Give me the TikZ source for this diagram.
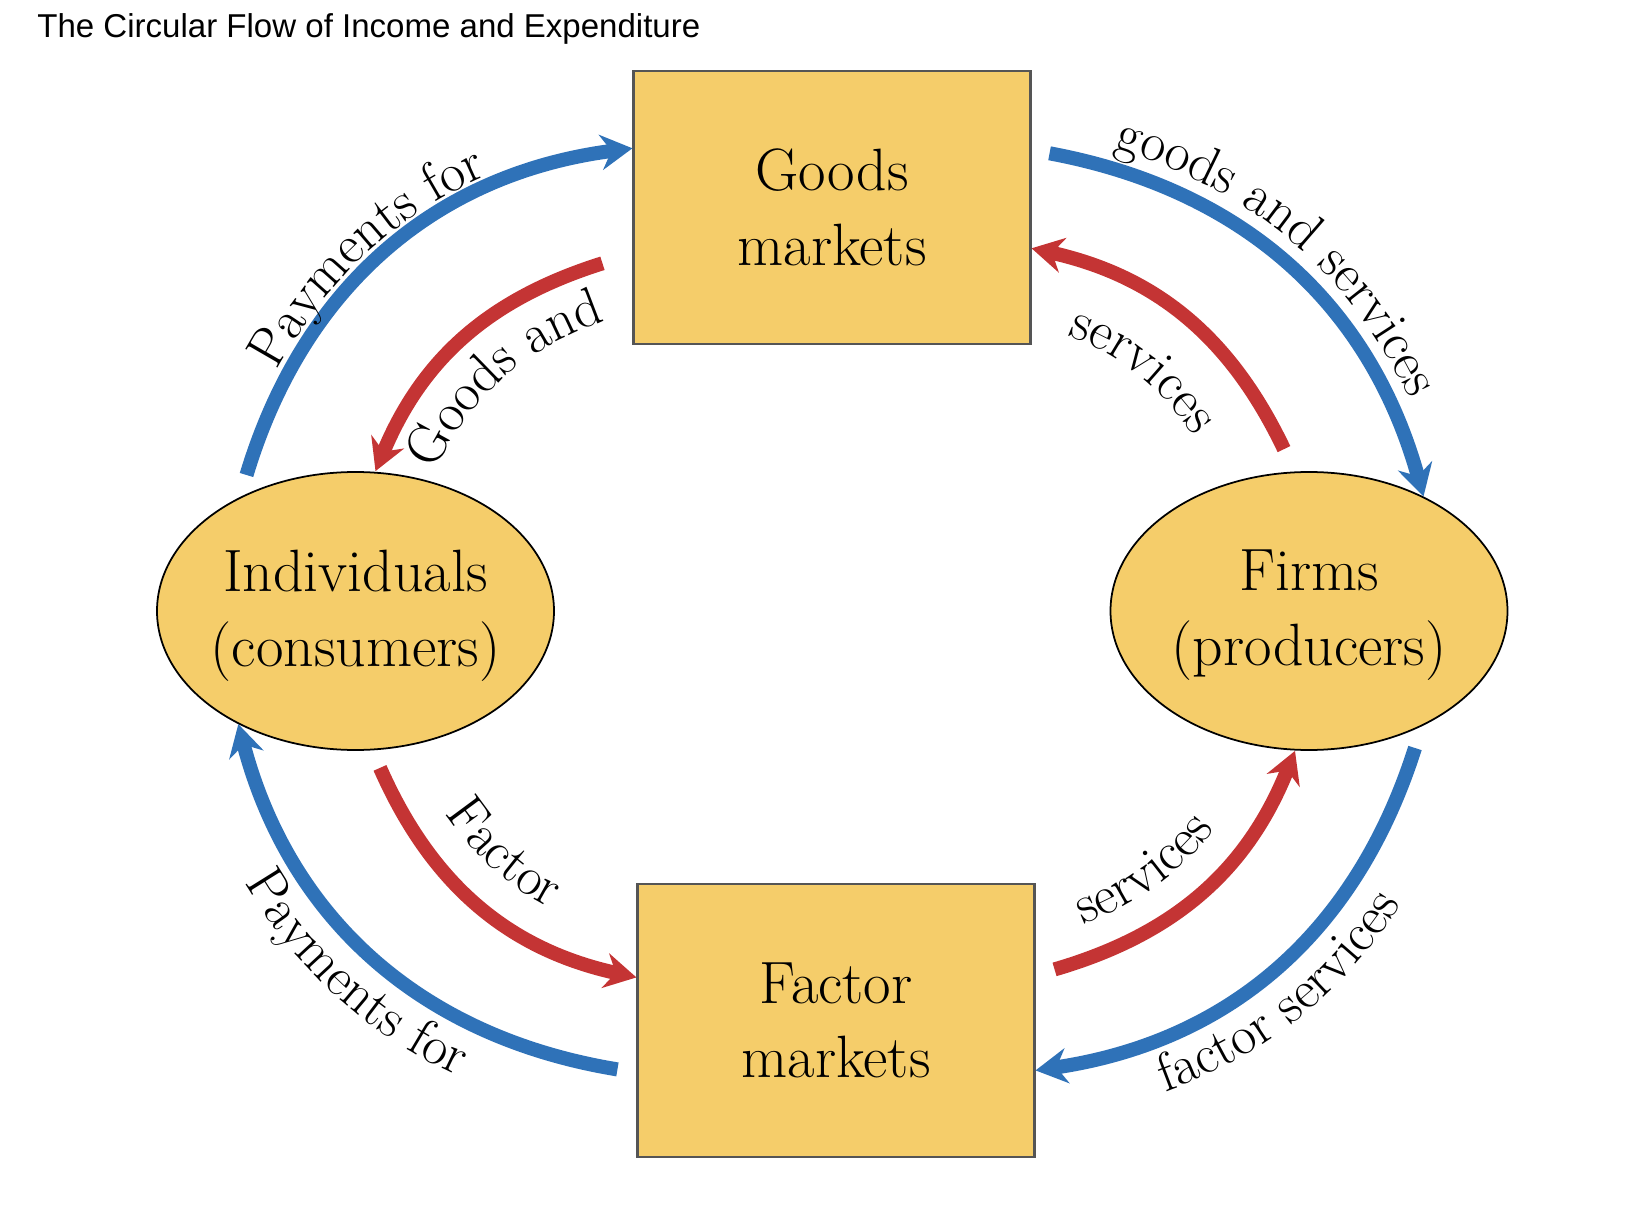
\documentclass[tikz,border=0pt]{standalone}
\usepackage{fontspec}
\usepackage{tikz}
\usetikzlibrary{arrows.meta,positioning,calc,shapes.geometric,decorations.text}
\newfontfamily\titlesans{Liberation Sans}
\definecolor{mktyellow}{RGB}{245,205,106}
\definecolor{flowblue}{RGB}{47,114,184}
\definecolor{flowred}{RGB}{196,52,52}
\definecolor{edgegrey}{RGB}{85,85,85}
\newcommand{\boxfont}{\fontsize{17}{21.3}\selectfont}
\newcommand{\arcfont}{\fontsize{15.5}{18}\selectfont}

\begin{document}
\begin{tikzpicture}[every node/.style={font=\boxfont},
  mkt/.style={draw=edgegrey,fill=mktyellow,line width=0.6pt,minimum width=3.97cm,
              minimum height=2.73cm,align=center},
  % the text must not widen the ellipse, so the inner sep is negative
  agent/.style={ellipse,draw=black,fill=mktyellow,line width=0.5pt,inner xsep=-0.5cm,
                minimum width=3.97cm,minimum height=2.78cm,align=center,text depth=1.8pt},
  bluear/.style={-{Stealth[length=9pt,width=10pt,inset=3pt]},flowblue,line width=4pt},
  redar/.style={-{Stealth[length=9pt,width=10pt,inset=3pt]},flowred,line width=4pt},
  arclbl/.style 2 args={decorate,decoration={text along path,
              text align={#1},text={|\arcfont|#2}}}]
\useasboundingbox (0,0) rectangle (16.30,-12.24);

\node[anchor=base west,font=\titlesans\fontsize{9.4}{11}\selectfont] (ttl) at (0.25,-0.375)
  {The Circular Flow of Income and Expenditure};

\node[mkt] (gm) at (8.32,-2.073) {Goods\\markets};
\node[mkt,below=5.38cm of gm,xshift=0.04cm] (fm) {Factor\\markets};
\node[agent] (ind) at (3.555,-6.11) {Individuals\\(consumers)};
\node[agent] (fir) at (13.09,-6.11) {Firms\\(producers)};

% ends of the flows; blue = money, red = goods and factors
\coordinate (bTLa) at ([shift={(-1.09,1.36)}]ind.center);
\coordinate (bTLb) at ([yshift=0.59cm]gm.west);
\coordinate (rTLa) at ([shift={(-0.30,-0.56)}]gm.west);
\coordinate (rTLb) at ([xshift=0.2cm]ind.north);
\coordinate (bTRa) at ([shift={(0.18,0.54)}]gm.east);
\coordinate (bTRb) at (fir.45);
\coordinate (rTRa) at ([shift={(-0.25,0.22)}]fir.north);
\coordinate (rTRb) at ([yshift=-0.41cm]gm.east);
\coordinate (rBLa) at ([shift={(0.245,-0.17)}]ind.south);
\coordinate (rBLb) at ([yshift=0.43cm]fm.west);
\coordinate (bBLa) at ([shift={(-0.19,-0.49)}]fm.west);
\coordinate (bBLb) at (ind.224);
\coordinate (rBRa) at ([shift={(0.19,0.51)}]fm.east);
\coordinate (rBRb) at ([xshift=-0.14cm]fir.south);
\coordinate (bBRa) at ([shift={(1.06,-1.37)}]fir.center);
\coordinate (bBRb) at ([yshift=-0.5cm]fm.east);
% rough centres of the arcs, for the label baselines
\coordinate (hubL) at (7.00,-6.12);
\coordinate (hubR) at (9.60,-6.12);

\draw[bluear] (bTLa) to[bend left=33] (bTLb);
\draw[redar] (rTLa) to[bend right=25] (rTLb);
\draw[bluear] (bTRa) to[bend left=32] (bTRb);
\draw[redar] (rTRa) to[bend right=26] (rTRb);
\draw[redar] (rBLa) to[bend right=27] (rBLb);
\draw[bluear] (bBLa) to[bend left=33] (bBLb);
\draw[redar] (rBRa) to[bend right=26] (rBRb);
\draw[bluear] (bBRa) to[bend left=32] (bBRb);

% labels run left to right on arcs scaled about the hubs, so letters keep their spacing
\path[arclbl={center,right indent=0.4cm}{Payments for}] ($(hubL)!1.023!(bTLa)$) to[bend left=33] ($(hubL)!1.023!(bTLb)$);
\path[arclbl={center,left indent=0.12cm}{Goods and}] ($(hubL)!0.846!(rTLb)$) to[bend left=25] ($(hubL)!0.846!(rTLa)$);
\path[arclbl={center,right indent=0.36cm}{goods and services}] ($(hubR)!1.042!(bTRa)$) to[bend left=32] ($(hubR)!1.042!(bTRb)$);
\path[arclbl={center}{services}] ($(hubR)!0.80!(rTRb)$) to[bend left=26] ($(hubR)!0.80!(rTRa)$);
\path[arclbl={center}{Payments for}] ($(hubL)!1.113!(bBLb)$) to[bend right=33] ($(hubL)!1.113!(bBLa)$);
\path[arclbl={center,right indent=0.3cm}{Factor}] ($(hubL)!0.90!(rBLa)$) to[bend right=27] ($(hubL)!0.90!(rBLb)$);
\path[arclbl={center,right indent=0.64cm}{services}] ($(hubR)!0.91!(rBRa)$) to[bend right=26] ($(hubR)!0.91!(rBRb)$);
\path[arclbl={center,right indent=0.3cm}{factor services}] ($(hubR)!1.113!(bBRb)$) to[bend right=32] ($(hubR)!1.113!(bBRa)$);
\end{tikzpicture}
\end{document}
